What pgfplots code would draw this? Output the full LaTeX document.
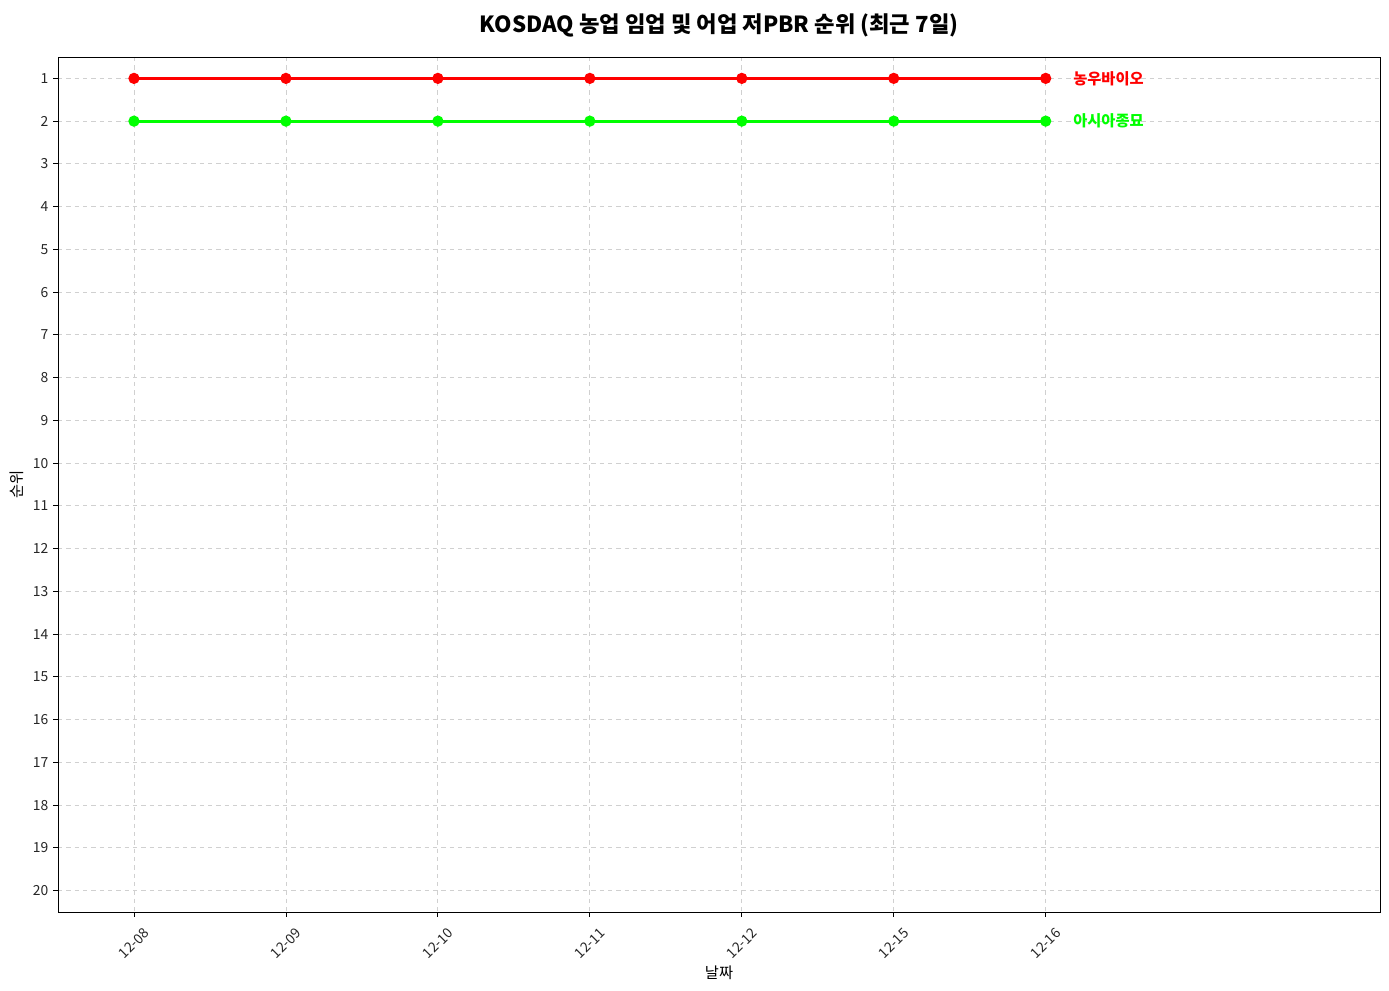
\documentclass[border=0pt]{standalone}
\usepackage{fontspec}
\setmainfont{Noto Sans CJK KR}
\usepackage{pgfplots}
\pgfplotsset{compat=1.18}
\definecolor{rankred}{HTML}{FF0000}
\definecolor{rankgreen}{HTML}{00FF00}
\definecolor{gridgray}{HTML}{D0D0D0}
\begin{document}
\begin{tikzpicture}
\path (0,0) rectangle (1000.08pt,712.8pt);
\begin{axis}[
    at={(41.76pt,56.16pt)}, anchor=south west,
    scale only axis,
    width=951.84pt, height=615.6pt,
    xmin=-0.5, xmax=8.2,
    ymin=0.5, ymax=20.5,
    y dir=reverse,
    xtick={0,1,2,3,4,5,6},
    xticklabels={12-08,12-09,12-10,12-11,12-12,12-15,12-16},
    ytick={1,2,...,20},
    tick align=outside,
    tick pos=left,
    major tick length=3.5pt,
    tick style={black, line width=0.6pt},
    axis line style={black, line width=0.7pt},
    grid=major,
    grid style={gridgray, dashed, line width=0.6pt},
    /pgf/number format/assume math mode=true,
    tick label style={font=\fontsize{10}{12}\selectfont, text=black!85},
    xticklabel style={yshift=-19pt, rotate=45, anchor=center},
    xlabel={날짜}, ylabel={순위},
    label style={font=\fontsize{11}{13}\selectfont},
    xlabel style={at={(0.5,0)}, yshift=-35pt, anchor=north},
    title={\textbf{KOSDAQ 농업 임업 및 어업 저PBR 순위 (최근 7일)}},
    title style={font=\fontsize{16}{18}\selectfont, yshift=5pt},
    clip=false,
  ]
\addplot[rankred, line width=2pt, mark=*, mark size=3pt] coordinates {(0,1) (1,1) (2,1) (3,1) (4,1) (5,1) (6,1)};
\addplot[rankgreen, line width=2pt, mark=*, mark size=3pt] coordinates {(0,2) (1,2) (2,2) (3,2) (4,2) (5,2) (6,2)};
\node[anchor=west, text=rankred, font=\fontsize{11}{13}\selectfont\bfseries, inner sep=0pt] at (axis cs:6.18,1) {농우바이오};
\node[anchor=west, text=rankgreen, font=\fontsize{11}{13}\selectfont\bfseries, inner sep=0pt] at (axis cs:6.18,2) {아시아종묘};
\end{axis}
\end{tikzpicture}
\end{document}
